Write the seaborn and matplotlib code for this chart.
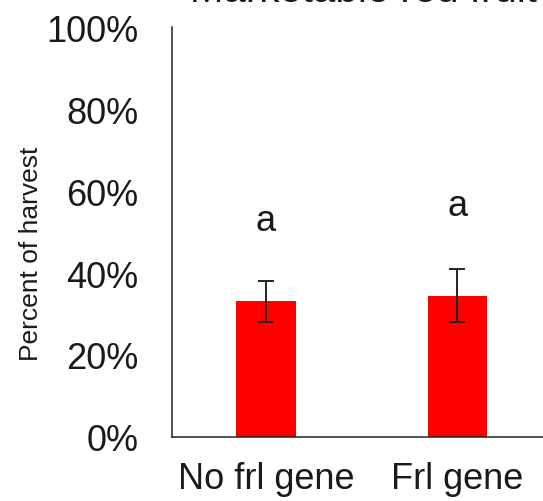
import matplotlib
matplotlib.use("Agg")
import matplotlib.pyplot as plt
import seaborn as sns
import pandas as pd
from matplotlib.ticker import FuncFormatter

# Share of the harvest that was marketable red fruit, by genotype
groups = ["No frl gene", "Frl gene"]
percent = [33.1, 34.4]
err_low = [5.0, 6.4]
err_high = [5.0, 6.5]
letters = ["a", "a"]
letter_y = [50.5, 54.1]
yticks = [0, 20, 40, 60, 80, 100]

sns.set_theme(style="white")
plt.rcParams["font.family"] = ["Liberation Sans", "DejaVu Sans"]

df = pd.DataFrame({"group": groups, "percent": percent})

fig = plt.figure(figsize=(5.43, 5.02), dpi=100)
ax = fig.add_axes([0.3168, 0.1275, 0.7053, 0.8167])

sns.barplot(data=df, x="group", y="percent", color="#ff0000", saturation=1,
            width=0.31, errorbar=None, ax=ax, edgecolor="none")
ax.errorbar(range(len(groups)), percent, yerr=[err_low, err_high], fmt="none",
            ecolor="#222222", elinewidth=1.4, capsize=6, capthick=1.4)

for i, (txt, yy) in enumerate(zip(letters, letter_y)):
    ax.text(i, yy, txt, ha="center", va="baseline", fontsize=26, color="#1a1a1a")

ax.set_xlim(-0.49, 1.51)
ax.set_ylim(0, 100)
ax.set_yticks(yticks)
ax.yaxis.set_major_formatter(FuncFormatter(lambda v, _: f"{v:.0f}%"))
ax.tick_params(axis="y", length=0, pad=24, labelsize=26, labelcolor="#1a1a1a")
ax.tick_params(axis="x", length=0, pad=17, labelsize=26, labelcolor="#1a1a1a")
ax.set_xlabel("")
ax.set_ylabel("Percent of harvest", fontsize=19, color="#1a1a1a", va="center")
ax.yaxis.set_label_coords(-0.368, 0.449)
# The chart title sits high, running off the top edge of the figure
ax.set_title("Marketable red fruit", fontsize=29, pad=18.5, color="#1a1a1a")

for side in ["top", "right"]:
    ax.spines[side].set_visible(False)
for side in ["left", "bottom"]:
    ax.spines[side].set_color("#222222")
    ax.spines[side].set_linewidth(1.1)

fig.savefig("out.png", dpi=100)
